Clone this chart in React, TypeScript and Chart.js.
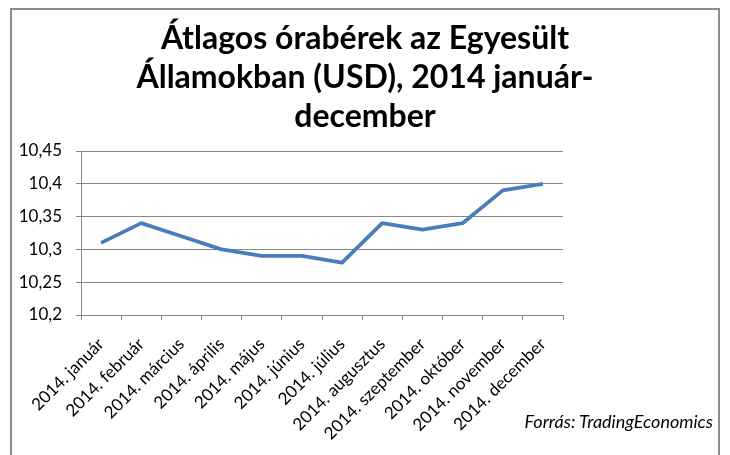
import React, { useEffect, useRef } from "react";
import { Chart, registerables } from "chart.js";

Chart.register(...registerables);

const titleLines = ["Átlagos órabérek az Egyesült", "Államokban (USD), 2014 január-", "december"];
const categories = [
  "2014. január",
  "2014. február",
  "2014. március",
  "2014. április",
  "2014. május",
  "2014. június",
  "2014. július",
  "2014. augusztus",
  "2014. szeptember",
  "2014. október",
  "2014. november",
  "2014. december",
];
const wages = [10.31, 10.34, 10.32, 10.3, 10.29, 10.29, 10.28, 10.34, 10.33, 10.34, 10.39, 10.4];
const yTickLabels = ["10,2", "10,25", "10,3", "10,35", "10,4", "10,45"];
const sourceText = "Forrás: TradingEconomics";

const FONT = "Lato, 'Open Sans', sans-serif";

export default function App() {
  const ref = useRef<HTMLCanvasElement | null>(null);
  useEffect(() => {
    if (!ref.current) return;
    const chart = new Chart(ref.current, {
      type: "line",
      data: {
        labels: categories,
        datasets: [
          {
            data: wages,
            borderColor: "#4a7ebb",
            borderWidth: 3.8,
            pointRadius: 0,
            tension: 0,
            borderJoinStyle: "round",
            fill: false,
          },
        ],
      },
      options: {
        responsive: false,
        animation: false,
        layout: { padding: { left: 0, right: 167, top: 151, bottom: 0 } },
        plugins: {
          legend: { display: false },
          tooltip: { enabled: false },
          title: { display: false },
        },
        scales: {
          x: {
            offset: true,
            grid: {
              offset: true,
              drawOnChartArea: false,
              drawTicks: true,
              tickLength: 5,
              color: "#888",
            },
            border: { color: "#888", width: 1 },
            ticks: {
              minRotation: 45,
              maxRotation: 45,
              autoSkip: false,
              color: "#000",
              padding: 14,
              font: { family: FONT, size: 17 },
            },
            afterFit: (s: any) => {
              s.height = 140;
            },
          },
          y: {
            min: 10.2,
            max: 10.45,
            grid: { color: "#888", tickLength: 5, lineWidth: 1 },
            border: { color: "#888", width: 1 },
            ticks: {
              stepSize: 0.05,
              color: "#000",
              padding: 14,
              font: { family: FONT, size: 17 },
              callback: (_v: any, i: number) => yTickLabels[i],
            },
            afterFit: (s: any) => {
              s.width = 81;
            },
          },
        },
      },
    });
    return () => chart.destroy();
  }, []);
  return (
    <div style={{ position: "fixed", left: 0, top: 0, width: 730, height: 455, background: "#fff", overflow: "hidden" }}>
      <div
        style={{
          position: "absolute",
          left: 10,
          top: 8,
          width: 706,
          height: 460,
          border: "2px solid #8c8c8c",
        }}
      />
      <canvas ref={ref} width={730} height={455} style={{ position: "absolute", left: 0, top: 0 }} />
      <div
        style={{
          position: "absolute",
          left: 0,
          width: 730,
          top: 17,
          textAlign: "center",
          fontFamily: FONT,
          fontWeight: "bold",
          fontSize: 32,
          lineHeight: "39px",
          color: "#000",
        }}
      >
        {titleLines.map((t, i) => (
          <div key={i}>{t}</div>
        ))}
      </div>
      <div
        style={{
          position: "absolute",
          right: 17,
          top: 410,
          fontFamily: FONT,
          fontStyle: "italic",
          fontSize: 18,
          color: "#000",
          whiteSpace: "nowrap",
        }}
      >
        {sourceText}
      </div>
    </div>
  );
}
